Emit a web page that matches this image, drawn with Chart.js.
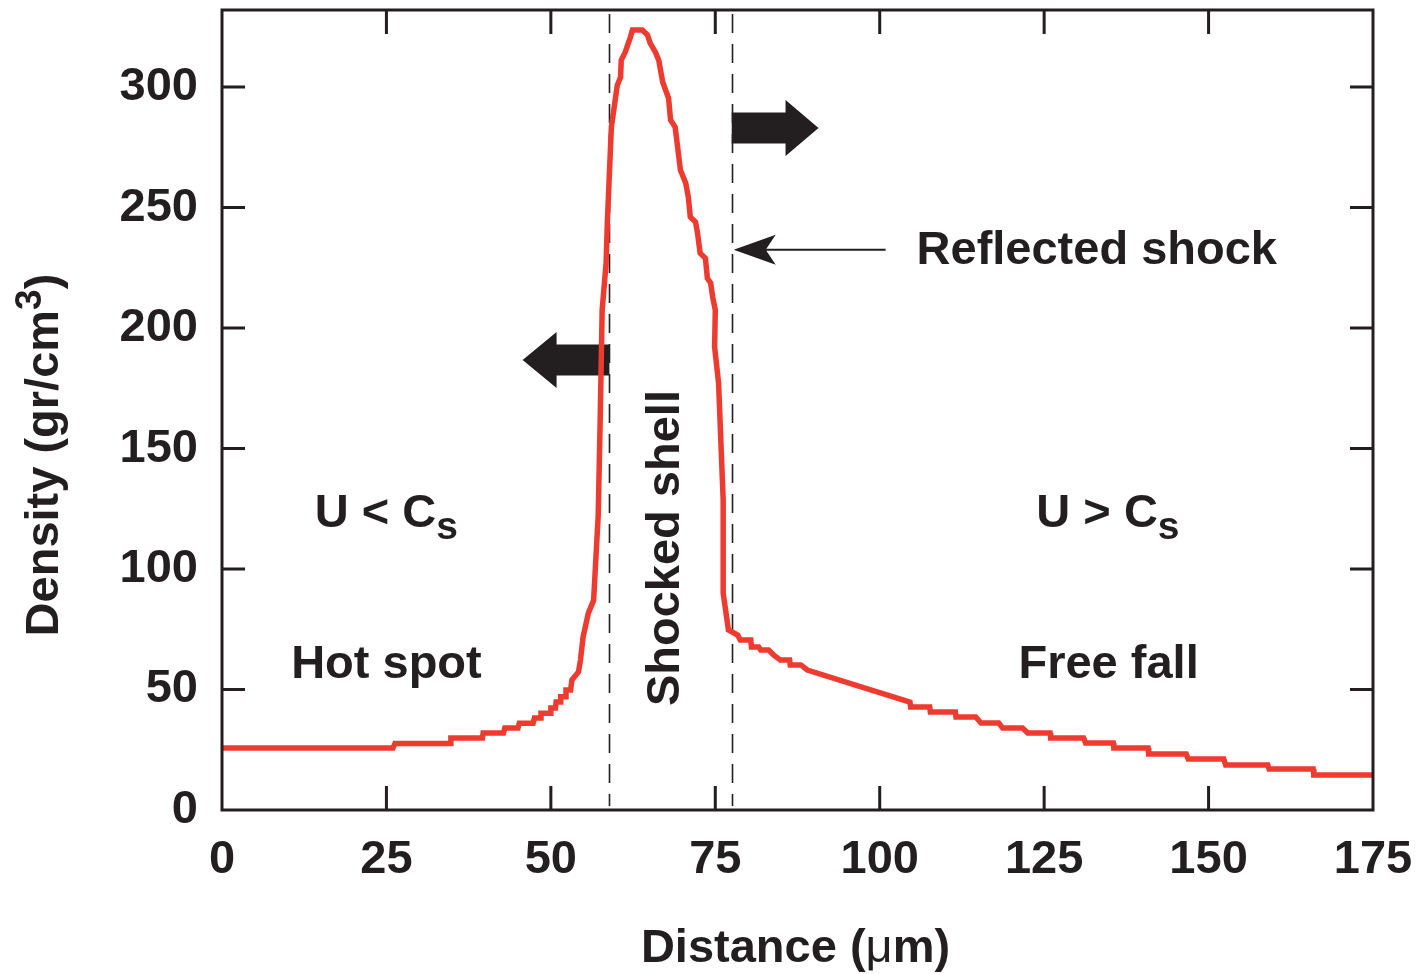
<!DOCTYPE html>
<html>
<head>
<meta charset="utf-8">
<script src="https://cdn.jsdelivr.net/npm/chart.js@4.4.1/dist/chart.umd.min.js"></script>
<style>
  html,body{margin:0;padding:0;background:#fff;}
  #wrap{width:1418px;height:974px;}
</style>
</head>
<body>
<div id="wrap"><canvas id="c" width="1418" height="974"></canvas></div>
<script>
// ---------- Data ----------
const distance = [
  0, 26.0, 26.3, 34.7, 34.8, 39.6, 39.7, 42.8, 43.0, 45.0, 45.2, 47.3, 47.5, 48.4, 48.5, 49.9,
  50.0, 50.7, 50.8, 51.4, 51.5, 52.2, 52.3, 53.0, 53.2, 54.2, 54.5, 54.9, 55.7, 56.5, 57.2, 57.5,
  57.8, 58.4, 58.6, 59.2, 60.1, 60.6, 60.7, 61.3, 62.1, 62.4, 63.9, 64.7, 65.1, 65.9, 66.4, 67.0,
  67.9, 68.2, 68.9, 69.2, 69.7, 70.5, 70.9, 71.2, 72.0, 72.3, 72.7, 73.5, 73.8, 74.3, 74.6, 75.0,
  74.9, 75.5, 76.2, 76.2, 77.0, 78.4, 78.8, 80.4, 80.5, 81.6, 81.9, 83.1, 83.9, 84.9, 86.3, 86.4,
  88.0, 89.0, 104.6, 104.7, 107.6, 107.7, 111.5, 111.6, 114.6, 115.4, 118.1, 118.7, 121.7, 122.5,
  125.9, 126.0, 131.0, 131.3, 135.5, 135.6, 140.8, 140.9, 146.6, 146.9, 152.3, 152.6, 159.0, 159.2,
  165.9, 166.0, 175
];
const density = [
  25.7, 25.7, 27.6, 27.6, 29.9, 29.9, 32.0, 32.0, 34.0, 34.0, 36.0, 36.0, 38.2, 38.2, 40.2, 40.2,
  42.3, 42.3, 44.8, 44.8, 47.0, 47.0, 49.8, 49.8, 54.0, 57.3, 62.2, 71.8, 81.7, 87.0, 122.4, 161.8,
  207.5, 227.0, 244.8, 283.4, 300.8, 304.1, 311.2, 314.5, 320.7, 323.7, 323.7, 321.6, 318.3, 314.5, 311.2, 302.1,
  295.4, 286.3, 283.4, 276.8, 265.6, 260.2, 254.4, 246.1, 244.0, 239.4, 231.1, 229.0, 220.7, 218.7, 212.9, 207.5,
  192.1, 177.2, 128.6, 90.0, 74.7, 72.6, 70.5, 70.5, 67.6, 67.6, 66.4, 66.4, 64.3, 62.2, 62.2, 60.2,
  60.2, 58.1, 44.8, 42.7, 42.7, 40.7, 40.7, 38.6, 38.6, 36.1, 36.1, 34.0, 34.0, 32.0,
  32.0, 29.9, 29.9, 27.8, 27.8, 25.7, 25.7, 23.2, 23.2, 21.2, 21.2, 18.7, 18.7, 17.0,
  17.0, 14.5, 14.5
];
const xTicks = [0, 25, 50, 75, 100, 125, 150, 175];
const yTicks = [0, 50, 100, 150, 200, 250, 300];
const shellEdges = [58.8, 77.5];

// ---------- Style ----------
const INK = '#231f20';
const RED = '#ee3b30';
const FONT = "'Liberation Sans', Arial, Helvetica, sans-serif";

function boldFont(px){ return `bold ${px}px ${FONT}`; }

// draw pieces of text one after another, centered as a group
function drawRun(ctx, parts, cx, cy){
  let total = 0;
  parts.forEach(p => { ctx.font = p.font; p.w = ctx.measureText(p.text).width; total += p.w; });
  let x = cx - total/2;
  ctx.textAlign = 'left';
  ctx.textBaseline = 'alphabetic';
  parts.forEach(p => {
    ctx.font = p.font;
    ctx.fillText(p.text, x, cy + (p.dy || 0));
    x += p.w;
  });
}

function blockArrow(ctx, x0, x1, y, bodyH, headH, headL){
  const dir = x1 > x0 ? 1 : -1;
  const hb = x1 - dir*headL;
  ctx.beginPath();
  ctx.moveTo(x0, y - bodyH/2);
  ctx.lineTo(hb, y - bodyH/2);
  ctx.lineTo(hb, y - headH/2);
  ctx.lineTo(x1, y);
  ctx.lineTo(hb, y + headH/2);
  ctx.lineTo(hb, y + bodyH/2);
  ctx.lineTo(x0, y + bodyH/2);
  ctx.closePath();
  ctx.fill();
}

// dashed shell boundaries and the block arrows go under the curve
const underlay = {
  id: 'underlay',
  beforeDatasetsDraw(chart){
    const {ctx, chartArea:{top, bottom}, scales:{x, y}} = chart;
    ctx.save();
    ctx.strokeStyle = INK;
    ctx.lineWidth = 1.6;
    ctx.setLineDash([19, 11]);
    shellEdges.forEach(v => {
      const px = Math.round(x.getPixelForValue(v)) + 0.5;
      ctx.beginPath();
      ctx.moveTo(px, top + 4);
      ctx.lineTo(px, bottom - 4);
      ctx.stroke();
    });
    ctx.setLineDash([]);
    ctx.fillStyle = INK;
    // shock moving outward (right) and shell inner edge moving inward (left)
    blockArrow(ctx, x.getPixelForValue(77.5), x.getPixelForValue(90.7), y.getPixelForValue(283), 31, 56, 33);
    blockArrow(ctx, x.getPixelForValue(58.9), x.getPixelForValue(45.7), y.getPixelForValue(186.7), 31, 56, 34);
    ctx.restore();
  }
};

// frame, inward ticks, annotations, axis titles
const overlay = {
  id: 'overlay',
  afterDraw(chart){
    const {ctx, chartArea:{left, right, top, bottom}, scales:{x, y}} = chart;
    ctx.save();
    ctx.strokeStyle = INK;
    ctx.lineWidth = 3;
    ctx.strokeRect(left, top, right - left, bottom - top);
    ctx.beginPath();
    xTicks.forEach(v => {
      const px = x.getPixelForValue(v);
      if (v === xTicks[0] || v === xTicks[xTicks.length-1]) return;
      ctx.moveTo(px, bottom); ctx.lineTo(px, bottom - 24);
      ctx.moveTo(px, top); ctx.lineTo(px, top + 24);
    });
    yTicks.forEach(v => {
      const py = y.getPixelForValue(v);
      if (v === 0) return;
      ctx.moveTo(left, py); ctx.lineTo(left + 23, py);
      ctx.moveTo(right, py); ctx.lineTo(right - 23, py);
    });
    ctx.stroke();

    ctx.fillStyle = INK;
    const F = boldFont(47);
    const S = boldFont(39);
    // region labels
    drawRun(ctx, [{text:'Hot spot', font:F}], x.getPixelForValue(25.0), y.getPixelForValue(61.4) + 16);
    drawRun(ctx, [{text:'Free fall', font:F}], x.getPixelForValue(134.8), y.getPixelForValue(61.4) + 16);
    drawRun(ctx, [{text:'U < C', font:F}, {text:'s', font:S, dy:12}], x.getPixelForValue(25.0), y.getPixelForValue(123.2) + 14);
    drawRun(ctx, [{text:'U > C', font:F}, {text:'s', font:S, dy:12}], x.getPixelForValue(134.7), y.getPixelForValue(123.2) + 14);

    // reflected shock label and thin arrow
    ctx.font = F;
    ctx.textAlign = 'left';
    ctx.textBaseline = 'alphabetic';
    ctx.fillText('Reflected shock', x.getPixelForValue(105.6), y.getPixelForValue(233.2) + 16);
    const ay = y.getPixelForValue(232.5);
    const ax0 = x.getPixelForValue(100.9), ax1 = x.getPixelForValue(77.8);
    ctx.lineWidth = 2;
    ctx.beginPath(); ctx.moveTo(ax0, ay); ctx.lineTo(ax1 + 30, ay); ctx.stroke();
    ctx.beginPath();
    ctx.moveTo(ax1, ay);
    ctx.lineTo(ax1 + 42, ay - 15);
    ctx.lineTo(ax1 + 32, ay);
    ctx.lineTo(ax1 + 42, ay + 15);
    ctx.closePath();
    ctx.fill();

    // rotated shell label
    ctx.save();
    ctx.translate(x.getPixelForValue(67.0) + 16, y.getPixelForValue(108.7));
    ctx.rotate(-Math.PI/2);
    drawRun(ctx, [{text:'Shocked shell', font:F}], 0, 0);
    ctx.restore();

    // axis titles
    drawRun(ctx, [
      {text:'Distance (', font:F},
      {text:'\u03bc', font:`47px ${FONT}`},
      {text:'m)', font:F}
    ], (left + right)/2 - 2, 962);

    ctx.save();
    ctx.translate(58, y.getPixelForValue(147.3));
    ctx.rotate(-Math.PI/2);
    drawRun(ctx, [
      {text:'Density (gr/cm', font:F},
      {text:'3', font:boldFont(37), dy:-17},
      {text:')', font:F}
    ], 0, 0);
    ctx.restore();
    ctx.restore();
  }
};

// ---------- Chart ----------
const points = distance.map((d, i) => ({x: d, y: density[i]}));

new Chart(document.getElementById('c'), {
  type: 'line',
  data: {
    datasets: [{
      data: points,
      borderColor: RED,
      borderWidth: 5.5,
      pointRadius: 0,
      tension: 0,
      fill: false,
      borderJoinStyle: 'miter'
    }]
  },
  options: {
    responsive: false,
    animation: false,
    events: [],
    layout: { padding: { top: 10, right: 45, left: 0, bottom: 0 } },
    plugins: { legend: { display: false }, tooltip: { enabled: false } },
    scales: {
      x: {
        type: 'linear',
        min: 0, max: 175,
        grid: { display: false, drawTicks: false },
        border: { display: false },
        afterBuildTicks: s => { s.ticks = xTicks.map(v => ({value: v})); },
        afterFit: s => { s.height = 164; s.paddingLeft = 0; s.paddingRight = 0; },
        ticks: { color: INK, font: { family: FONT, size: 47, weight: 'bold' }, padding: 22, maxRotation: 0 }
      },
      y: {
        min: 0, max: 332,
        grid: { display: false, drawTicks: false },
        border: { display: false },
        afterBuildTicks: s => { s.ticks = yTicks.map(v => ({value: v})); },
        afterFit: s => { s.width = 222; s.paddingTop = 0; s.paddingBottom = 0; },
        ticks: { color: INK, font: { family: FONT, size: 47, weight: 'bold' }, padding: 24 }
      }
    }
  },
  plugins: [underlay, overlay]
});
</script>
</body>
</html>
